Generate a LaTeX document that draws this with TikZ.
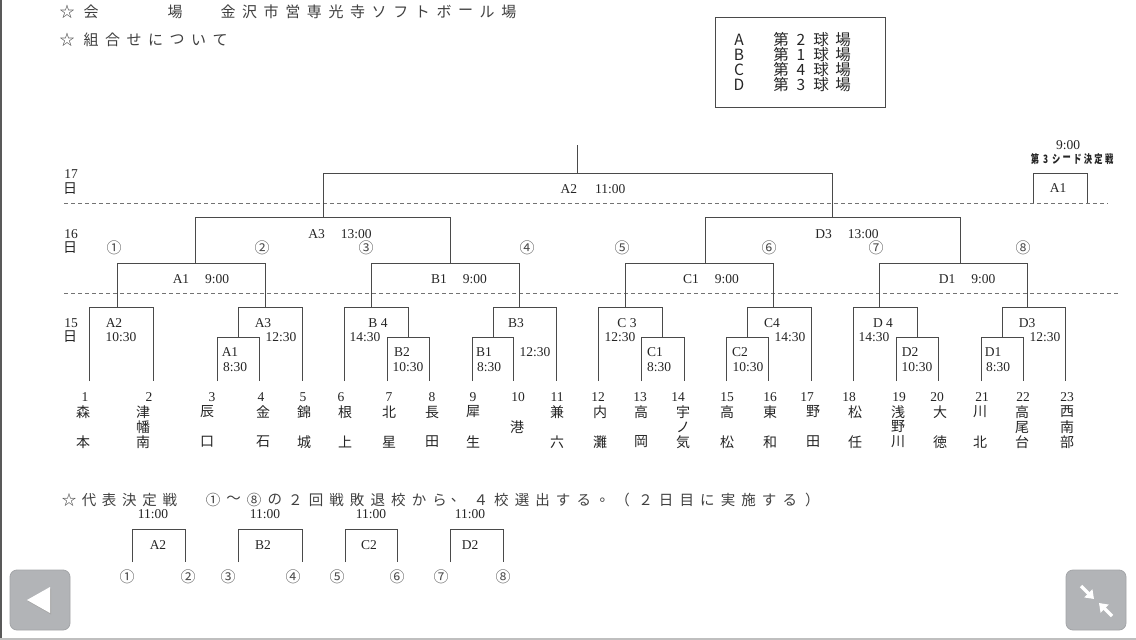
\documentclass[tikz,border=0pt]{standalone}
\usepackage{fontspec}
\usepackage{graphicx}
\setmainfont{Liberation Serif}
\newfontfamily\jp{Noto Sans CJK JP}
\usetikzlibrary{arrows.meta}
\definecolor{btn}{HTML}{B2B4B7}
\definecolor{btnd}{HTML}{A3A5A8}
\definecolor{ink}{HTML}{252525}
\definecolor{lnc}{HTML}{4A4A4A}
\newcommand{\nmii}[4]{\node[nm] (#1a) at (#2,412) {#3}; \node[nm] (#1b) at (#2,442) {#4};}
\newcommand{\nmiii}[5]{\node[nm] (#1a) at (#2,412) {#3}; \node[nm] (#1b) at (#2,427) {#4}; \node[nm] (#1c) at (#2,442) {#5};}
\begin{document}
\begin{tikzpicture}[x=1pt,y=-1pt,
  ln/.style={draw=lnc, line width=1pt},
  dl/.style={draw=black!55, line width=0.8pt, dash pattern=on 4pt off 3pt},
  lab/.style={font=\fontsize{13.5}{13.5}\selectfont, inner sep=0pt, text=ink},
  nm/.style={font=\jp\fontsize{14}{14}\selectfont, inner sep=0pt, text=ink},
  hd/.style={font=\jp\fontsize{15}{15}\selectfont, inner sep=0pt, text=black!75},
  lg/.style={font=\jp\fontsize{15.5}{15.5}\selectfont, inner sep=0pt, text=ink},
  cn/.style={font=\jp\fontsize{15}{15}\selectfont, inner sep=0pt, text=black!70},
  bt/.style={font=\jp\fontsize{14.5}{15}\selectfont, inner sep=0pt, text=black!75},
  sd/.style={font=\jp\bfseries\fontsize{11.5}{12}\selectfont, inner sep=0pt, text=ink},
]
\useasboundingbox (0,0) rectangle (1136,640);
\fill[white] (0,0) rectangle (1136,640);
\fill[black!65] (0,0) rectangle (2,640);
\fill[black!25] (0,638) rectangle (1136,640);

% ---------- header ----------
\node[hd] (hs1) at (67,12) {☆};
\node[hd] (hk1) at (91,12) {会};
\node[hd] (hk2) at (175,12) {場};
\foreach \c [count=\i from 0] in {金,沢,市,営,専,光,寺,ソ,フ,ト,ボ,ー,ル,場}
  \node[hd] (hv\i) at (228+21.6*\i,12) {\c};
\node[hd] (hs2) at (67,40) {☆};
\foreach \c [count=\i from 0] in {組,合,せ,に,つ,い,て}
  \node[hd] (hw\i) at (91+21.5*\i,40) {\c};

% ---------- legend ----------
\draw[ln] (715,17) rectangle (885,107);
\foreach \L/\n [count=\i from 0] in {A/2,B/1,C/4,D/3}{
  \node[lg] (lgL\i) at (739,40+15*\i) {\L};
  \node[lg] (lgA\i) at (781,40+15*\i) {第};
  \node[lg] (lgN\i) at (801,40+15*\i) {\n};
  \node[lg] (lgB\i) at (821,40+15*\i) {球};
  \node[lg] (lgC\i) at (843,40+15*\i) {場};
}

% ---------- day labels and dashed lines ----------
\draw[dl] (64,203) -- (1108,203);
\draw[dl] (64,293) -- (1119,293);
\node[lab] (d17) at (71,174) {17};
\node[nm] (d17j) at (70,189) {日};
\node[lab] (d16) at (71,234) {16};
\node[nm] (d16j) at (70,248) {日};
\node[lab] (d15) at (71,323) {15};
\node[nm] (d15j) at (70,337) {日};

% ---------- bracket ----------
\draw[ln] (577,145) -- (577,173);
\draw[ln] (323,217) -- (323,173) -- (832,173) -- (832,217);
\draw[ln] (195,263) -- (195,217) -- (450,217) -- (450,263);
\draw[ln] (705,263) -- (705,217) -- (960,217) -- (960,263);
\draw[ln] (117,307) -- (117,263) -- (265,263) -- (265,307);
\draw[ln] (371,307) -- (371,263) -- (519,263) -- (519,307);
\draw[ln] (625,307) -- (625,263) -- (773,263) -- (773,307);
\draw[ln] (879,307) -- (879,263) -- (1027,263) -- (1027,307);
% 15th
\draw[ln] (89,381) -- (89,307) -- (153,307) -- (153,381);
\draw[ln] (238,337) -- (238,307) -- (302,307) -- (302,381);
\draw[ln] (217,381) -- (217,337) -- (259,337) -- (259,381);
\draw[ln] (344,381) -- (344,307) -- (408,307) -- (408,337);
\draw[ln] (387,381) -- (387,337) -- (429,337) -- (429,381);
\draw[ln] (493,337) -- (493,307) -- (556,307) -- (556,381);
\draw[ln] (472,381) -- (472,337) -- (513,337) -- (513,381);
\draw[ln] (598,381) -- (598,307) -- (662,307) -- (662,337);
\draw[ln] (641,381) -- (641,337) -- (684,337) -- (684,381);
\draw[ln] (747,337) -- (747,307) -- (811,307) -- (811,381);
\draw[ln] (726,381) -- (726,337) -- (768,337) -- (768,381);
\draw[ln] (853,381) -- (853,307) -- (917,307) -- (917,337);
\draw[ln] (896,381) -- (896,337) -- (938,337) -- (938,381);
\draw[ln] (1002,337) -- (1002,307) -- (1065,307) -- (1065,381);
\draw[ln] (981,381) -- (981,337) -- (1023,337) -- (1023,381);
% seed match
\draw[ln] (1033,203) -- (1033,173) -- (1087,173) -- (1087,203);
\node[lab] (sdA1) at (1058,188) {A1};
\node[lab] (sdT) at (1068,145) {9:00};
\foreach \c [count=\i from 0] in {第,3,シ,ー,ド,決,定,戦}
  \node[sd] (sdj\i) at (1035+10.6*\i,159) {\scalebox{0.72}[1]{\c}};

% round labels
\node[lab] (m1) at (593,189) {A2\hspace{18pt}11:00};
\node[lab] (m2) at (340,234) {A3\hspace{16pt}13:00};
\node[lab] (m3) at (847,234) {D3\hspace{16pt}13:00};
\node[lab] (m4) at (201,279) {A1\hspace{16pt}9:00};
\node[lab] (m5) at (459,279) {B1\hspace{16pt}9:00};
\node[lab] (m6) at (711,279) {C1\hspace{16pt}9:00};
\node[lab] (m7) at (967,279) {D1\hspace{16pt}9:00};

% circled numbers
\foreach \c/\x [count=\i] in {①/114,②/262,③/366,④/527,⑤/622,⑥/769,⑦/876,⑧/1023}
  \node[cn] (cc\i) at (\x,248) {\c};

% 15th labels
\node[lab] (g1) at (114,323) {A2};   \node[lab] (g1t) at (121,337) {10:30};
\node[lab] (g2) at (263,323) {A3};   \node[lab] (g2t) at (281,337) {12:30};
\node[lab] (g3) at (230,352) {A1};   \node[lab] (g3t) at (235,367) {8:30};
\node[lab] (g4) at (378,323) {B 4};  \node[lab] (g4t) at (365,337) {14:30};
\node[lab] (g5) at (402,352) {B2};   \node[lab] (g5t) at (408,367) {10:30};
\node[lab] (g6) at (516,323) {B3};   \node[lab] (g6t) at (535,352) {12:30};
\node[lab] (g7) at (484,352) {B1};   \node[lab] (g7t) at (489,367) {8:30};
\node[lab] (g8) at (627,323) {C 3};  \node[lab] (g8t) at (620,337) {12:30};
\node[lab] (g9) at (655,352) {C1};   \node[lab] (g9t) at (659,367) {8:30};
\node[lab] (g10) at (772,323) {C4};  \node[lab] (g10t) at (790,337) {14:30};
\node[lab] (g11) at (740,352) {C2};  \node[lab] (g11t) at (748,367) {10:30};
\node[lab] (g12) at (883,323) {D 4}; \node[lab] (g12t) at (874,337) {14:30};
\node[lab] (g13) at (910,352) {D2};  \node[lab] (g13t) at (917,367) {10:30};
\node[lab] (g14) at (1027,323) {D3}; \node[lab] (g14t) at (1045,337) {12:30};
\node[lab] (g15) at (993,352) {D1};  \node[lab] (g15t) at (998,367) {8:30};

% team numbers
\foreach \x [count=\i] in {85,149,212,261,303,341,389,432,473,518,557,598,640,678,727,770,807,849,899,937,982,1023,1067}
  \node[lab] (tn\i) at (\x,397) {\i};

% team names
\nmii{t1}{83}{森}{本}
\nmiii{t2}{143}{津}{幡}{南}
\nmii{t3}{207}{辰}{口}
\nmii{t4}{263}{金}{石}
\nmii{t5}{304}{錦}{城}
\nmii{t6}{345}{根}{上}
\nmii{t7}{389}{北}{星}
\nmii{t8}{432}{長}{田}
\nmii{t9}{473}{犀}{生}
\node[nm] (t10) at (517,427) {港};
\nmii{t11}{557}{兼}{六}
\nmii{t12}{600}{内}{灘}
\nmii{t13}{641}{高}{岡}
\nmiii{t14}{683}{宇}{ノ}{気}
\nmii{t15}{727}{高}{松}
\nmii{t16}{770}{東}{和}
\nmii{t17}{813}{野}{田}
\nmii{t18}{855}{松}{任}
\nmiii{t19}{898}{浅}{野}{川}
\nmii{t20}{940}{大}{徳}
\nmii{t21}{980}{川}{北}
\nmiii{t22}{1022}{高}{尾}{台}
\nmiii{t23}{1067}{西}{南}{部}

% ---------- bottom ----------
\node[bt] (bs) at (69,500) {☆};
\foreach \c [count=\i from 0] in {代,表,決,定,戦}
  \node[bt] (bk\i) at (89+20.2*\i,500) {\c};
\foreach \c/\dx [count=\i from 0] in {①/0,～/0,⑧/0,の/0,２/0,回/0,戦/0,敗/0,退/0,校/0,か/0,ら/0,、/-2,４/0,校/0,選/0,出/0,す/0,る/0,。/2.5,（/-2.5,２/0,日/0,目/0,に/0,実/0,施/0,す/0,る/0,）/2}
  \node[bt] (bw\i) at (213+20.6*\i+\dx,500) {\c};

\foreach \a/\b/\lx/\tx/\L [count=\i] in {132/185/158/153/A2,238/302/263/265/B2,345/397/369/371/C2,450/503/470/470/D2}{
  \draw[ln] (\a,562) -- (\a,529) -- (\b,529) -- (\b,562);
  \node[lab] (bb\i) at (\lx,545) {\L};
  \node[lab] (bt\i) at (\tx,514) {11:00};
}
\foreach \c/\x [count=\i] in {①/127,②/188,③/228,④/293,⑤/337,⑥/397,⑦/441,⑧/503}
  \node[cn] (bc\i) at (\x,577) {\c};

% ---------- buttons ----------
\filldraw[fill=btn, draw=btnd, line width=0.8pt, rounded corners=7pt] (10,570) rectangle (70,630);
\fill[black!35] (28,601.5) -- (51,588.5) -- (51,614.5) -- cycle;
\fill[white] (27,600) -- (50,587) -- (50,613) -- cycle;
\filldraw[fill=btn, draw=btnd, line width=0.8pt, rounded corners=7pt] (1066,570) rectangle (1126,630);
\draw[white, line width=3.5pt, -{Triangle[length=8pt,width=11pt]}] (1081,586) -- (1094,599);
\draw[white, line width=3.5pt, -{Triangle[length=8pt,width=11pt]}] (1112,616) -- (1099,603);
\end{tikzpicture}
\end{document}
